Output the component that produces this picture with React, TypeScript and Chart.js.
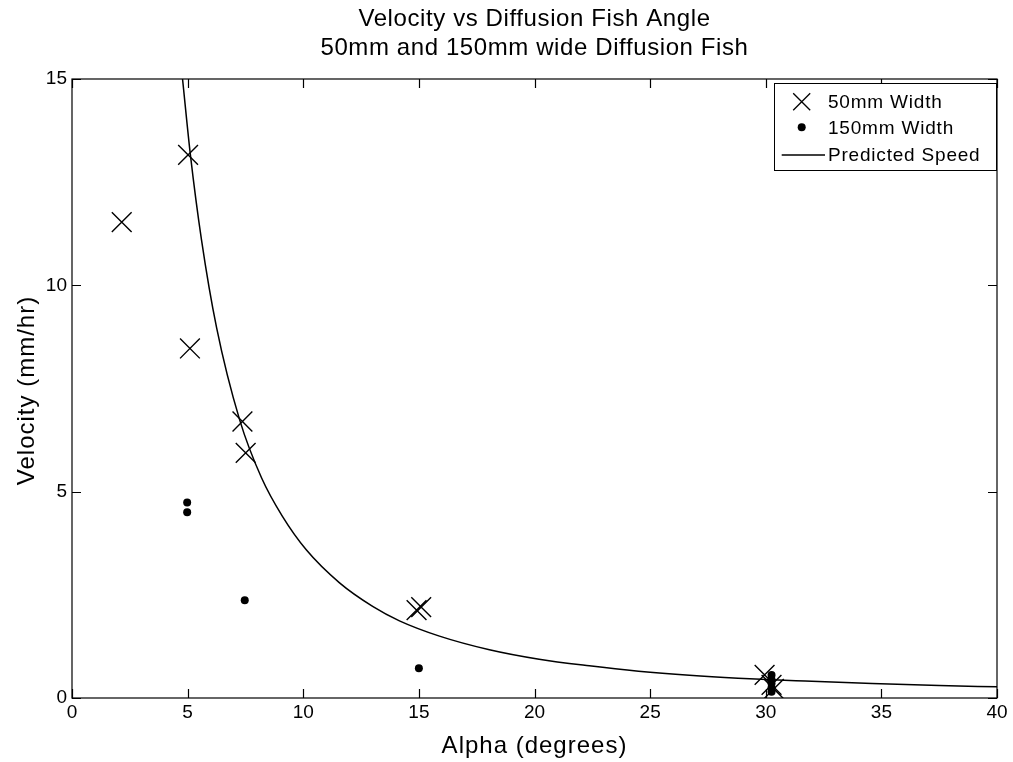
import { useEffect, useRef } from "react";
import { Chart, registerables } from "chart.js";

Chart.register(...registerables);

const titleLines = ["Velocity vs Diffusion Fish Angle", "50mm and 150mm wide Diffusion Fish"];
const xAxisLabel = "Alpha (degrees)";
const yAxisLabel = "Velocity (mm/hr)";
const xTickValues = [0, 5, 10, 15, 20, 25, 30, 35, 40];
const yTickValues = [0, 5, 10, 15];

const seriesLabels = ["50mm Width", "150mm Width", "Predicted Speed"];

const width50Alpha = [2.15, 5.02, 5.1, 7.37, 7.51, 14.9, 15.1, 29.95, 30.25, 30.35];
const width50Velocity = [11.53, 13.16, 8.47, 6.7, 5.94, 2.13, 2.2, 0.56, 0.32, 0.22];

const width150Alpha = [4.98, 4.98, 7.47, 15.0, 30.25, 30.25, 30.25, 30.25, 30.25];
const width150Velocity = [4.74, 4.5, 2.37, 0.72, 0.56, 0.45, 0.35, 0.25, 0.15];

const predictedAlpha = [4.78, 5.12, 5.6, 6.25, 7.25, 8.2, 9.1, 10.13, 11.57, 13.0, 14.16, 15.89, 18.05, 20.2, 22.37, 24.5, 26.7, 28.8, 31.7, 34.6, 37.5, 40];
const predictedVelocity = [15, 13.16, 11.1, 8.98, 6.74, 5.33, 4.4, 3.59, 2.79, 2.22, 1.87, 1.5, 1.17, 0.94, 0.78, 0.65, 0.55, 0.48, 0.41, 0.35, 0.3, 0.27];

const FONT = '"Liberation Sans", Arial, Helvetica, sans-serif';

const toPoints = (xs: number[], ys: number[]) => xs.map((x, i) => ({ x, y: ys[i] }));

const matlabPlugin = {
  id: "matlabDecor",
  afterDraw(chart: any) {
    const { ctx, chartArea, scales } = chart;
    const { left, right, top, bottom } = chartArea;
    const xs = scales.x;
    const ys = scales.y;
    ctx.save();
    ctx.strokeStyle = "#000";
    ctx.lineWidth = 1.2;
    ctx.strokeRect(left, top, right - left, bottom - top);
    const tl = 9;
    ctx.beginPath();
    xTickValues.forEach((v) => {
      const px = Math.round(xs.getPixelForValue(v)) + 0.5;
      ctx.moveTo(px, bottom);
      ctx.lineTo(px, bottom - tl);
      ctx.moveTo(px, top);
      ctx.lineTo(px, top + tl);
    });
    yTickValues.forEach((v) => {
      const py = Math.round(ys.getPixelForValue(v)) + 0.5;
      ctx.moveTo(left, py);
      ctx.lineTo(left + tl, py);
      ctx.moveTo(right, py);
      ctx.lineTo(right - tl, py);
    });
    ctx.stroke();

    const cx = (left + right) / 2;
    const cy = (top + bottom) / 2;

    // Title
    ctx.fillStyle = "#000";
    ctx.font = `24px ${FONT}`;
    (ctx as any).letterSpacing = "0.6px";
    ctx.textAlign = "center";
    ctx.textBaseline = "middle";
    ctx.fillText(titleLines[0], cx, 19);
    ctx.fillText(titleLines[1], cx, 48);

    // Axis titles
    ctx.font = `24px ${FONT}`;
    (ctx as any).letterSpacing = "1px";
    ctx.fillText(xAxisLabel, cx, 746);
    ctx.save();
    ctx.translate(27, cy + 2);
    ctx.rotate(-Math.PI / 2);
    ctx.fillText(yAxisLabel, 0, 0);
    ctx.restore();

    // Legend
    const bx = right - 223;
    const by = top + 4;
    const bw = 222;
    const bh = 87;
    ctx.fillStyle = "#fff";
    ctx.fillRect(bx, by, bw, bh);
    ctx.lineWidth = 1;
    ctx.strokeStyle = "#000";
    ctx.strokeRect(bx + 0.5, by + 0.5, bw, bh);
    const rows = [by + 18.7, by + 44.3, by + 72];
    const mx = bx + 27.7;
    ctx.beginPath();
    const h = 8.5;
    ctx.lineWidth = 1.3;
    ctx.moveTo(mx - h, rows[0] - h);
    ctx.lineTo(mx + h, rows[0] + h);
    ctx.moveTo(mx + h, rows[0] - h);
    ctx.lineTo(mx - h, rows[0] + h);
    ctx.stroke();
    ctx.fillStyle = "#000";
    ctx.beginPath();
    ctx.arc(mx, rows[1], 4, 0, Math.PI * 2);
    ctx.fill();
    ctx.beginPath();
    ctx.lineWidth = 1.3;
    ctx.moveTo(bx + 7.7, rows[2]);
    ctx.lineTo(bx + 51, rows[2]);
    ctx.stroke();
    ctx.font = `19px ${FONT}`;
    (ctx as any).letterSpacing = "0.8px";
    ctx.textAlign = "left";
    ctx.textBaseline = "middle";
    const labels = chart.data.datasets.map((d: any) => d.label);
    labels.forEach((t: string, i: number) => {
      ctx.fillText(t, bx + 54, rows[i] + 1);
    });
    (ctx as any).letterSpacing = "0px";
    ctx.restore();
  },
};

export default function App() {
  const canvasRef = useRef<HTMLCanvasElement | null>(null);

  useEffect(() => {
    if (!canvasRef.current) return;
    const chart = new Chart(canvasRef.current, {
      type: "scatter",
      data: {
        datasets: [
          {
            label: seriesLabels[0],
            data: toPoints(width50Alpha, width50Velocity),
            pointStyle: "crossRot",
            pointRadius: 14,
            pointHoverRadius: 14,
            borderColor: "#000",
            backgroundColor: "#000",
            borderWidth: 1.4,
            showLine: false,
          },
          {
            label: seriesLabels[1],
            data: toPoints(width150Alpha, width150Velocity),
            pointStyle: "circle",
            pointRadius: 4,
            pointHoverRadius: 4,
            borderColor: "#000",
            backgroundColor: "#000",
            borderWidth: 0,
            showLine: false,
          },
          {
            label: seriesLabels[2],
            data: toPoints(predictedAlpha, predictedVelocity),
            pointRadius: 0,
            pointHoverRadius: 0,
            borderColor: "#000",
            backgroundColor: "#000",
            borderWidth: 1.5,
            showLine: true,
            cubicInterpolationMode: "monotone",
          } as any,
        ],
      },
      options: {
        animation: false,
        responsive: true,
        maintainAspectRatio: false,
        events: [],
        layout: { padding: { top: 79, right: 16, bottom: 0, left: 0 } },
        plugins: {
          legend: { display: false },
          title: { display: false },
          tooltip: { enabled: false },
        },
        scales: {
          x: {
            type: "linear",
            min: 0,
            max: 40,
            afterFit: (s: any) => {
              s.height = 64;
            },
            afterBuildTicks: (s: any) => {
              s.ticks = xTickValues.map((v) => ({ value: v }));
            },
            grid: { display: false, drawTicks: false },
            border: { display: false },
            ticks: {
              padding: 3,
              color: "#000",
              font: { family: FONT, size: 19 },
              maxRotation: 0,
            },
            title: { display: false },
          },
          y: {
            type: "linear",
            min: 0,
            max: 15,
            afterFit: (s: any) => {
              s.width = 72;
            },
            afterBuildTicks: (s: any) => {
              s.ticks = yTickValues.map((v) => ({ value: v }));
            },
            grid: { display: false, drawTicks: false },
            border: { display: false },
            ticks: {
              padding: 5,
              color: "#000",
              font: { family: FONT, size: 19 },
            },
            title: { display: false },
          },
        },
      },
      plugins: [matlabPlugin],
    });
    return () => chart.destroy();
  }, []);

  return (
    <div style={{ position: "fixed", left: 0, top: 0, width: 1013, height: 762, background: "#fff" }}>
      <canvas ref={canvasRef} />
    </div>
  );
}
